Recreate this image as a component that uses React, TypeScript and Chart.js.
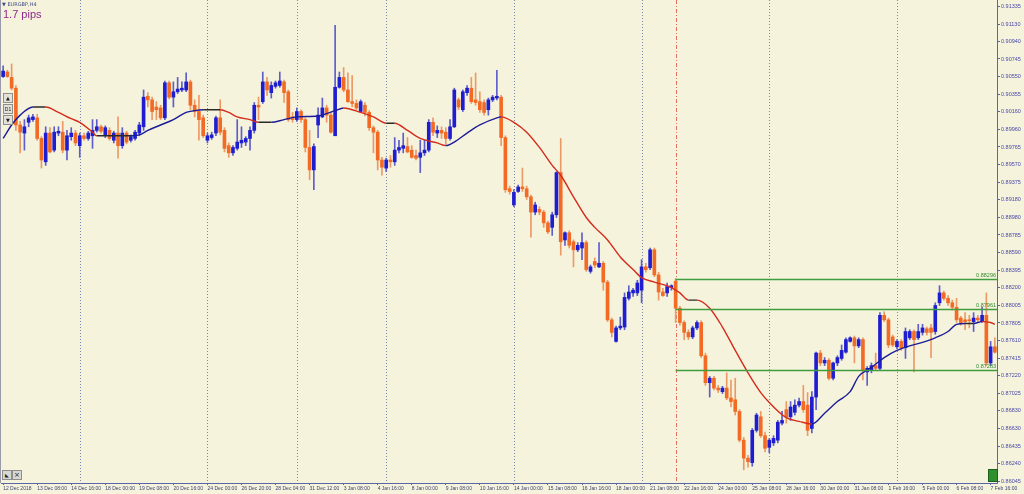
import React, { useEffect, useRef } from "react";
import { Chart, registerables } from "chart.js";

Chart.register(...registerables);

// ---------------- DATA ----------------
const opens = [
  0.9055, 0.9060, 0.9054, 0.9042, 0.9001, 0.8992, 0.9004, 0.9007, 0.9009, 0.8986,
  0.8960, 0.8992, 0.8973, 0.8992, 0.8993, 0.8973, 0.8988, 0.8992, 0.8978, 0.8989,
  0.8986, 0.8989, 0.8995, 0.8999, 0.8989, 0.8995, 0.8984, 0.8992, 0.8978, 0.8992,
  0.8984, 0.8986, 0.8992, 0.8999, 0.9033, 0.9029, 0.9021, 0.9020, 0.9009, 0.9048,
  0.9032, 0.9038, 0.9040, 0.9040, 0.9049, 0.9023, 0.9016, 0.9009, 0.8984, 0.8987,
  0.8992, 0.9009, 0.8995, 0.8978, 0.8970, 0.8975, 0.8981, 0.8982, 0.8986, 0.8995,
  0.9023, 0.9027, 0.9049, 0.9037, 0.9044, 0.9045, 0.9049, 0.9038, 0.9010, 0.9007,
  0.9016, 0.9007, 0.8976, 0.8951, 0.9001, 0.9010, 0.9020, 0.9012, 0.8989, 0.9043,
  0.9054, 0.9040, 0.9027, 0.9025, 0.9016, 0.9023, 0.9015, 0.8998, 0.8993, 0.8962,
  0.8953, 0.8962, 0.8960, 0.8973, 0.8975, 0.8977, 0.8973, 0.8967, 0.8965, 0.8970,
  0.8973, 0.9004, 0.8992, 0.8995, 0.8993, 0.8986, 0.8999, 0.9029, 0.9018, 0.9037,
  0.9042, 0.9029, 0.9027, 0.9026, 0.9018, 0.9029, 0.9031, 0.9032, 0.8987, 0.8930,
  0.8912, 0.8927, 0.8932, 0.8930, 0.8921, 0.8904, 0.8907, 0.8904, 0.8892, 0.8887,
  0.8901, 0.8948, 0.8873, 0.8881, 0.8871, 0.8862, 0.8864, 0.8870, 0.8838, 0.8849,
  0.8843, 0.8847, 0.8826, 0.8784, 0.8760, 0.8775, 0.8776, 0.8808, 0.8814, 0.8814,
  0.8817, 0.8843, 0.8842, 0.8862, 0.8834, 0.8815, 0.8814, 0.8820, 0.8827, 0.8797,
  0.8781, 0.8770, 0.8765, 0.8775, 0.8781, 0.8744, 0.8714, 0.8719, 0.8708, 0.8704,
  0.8708, 0.8697, 0.8695, 0.8682, 0.8650, 0.8630, 0.8625, 0.8661, 0.8676, 0.8655,
  0.8642, 0.8647, 0.8650, 0.8669, 0.8684, 0.8676, 0.8681, 0.8689, 0.8693, 0.8689,
  0.8663, 0.8698, 0.8747, 0.8736, 0.8739, 0.8719, 0.8736, 0.8741, 0.8748, 0.8760,
  0.8764, 0.8755, 0.8762, 0.8726, 0.8728, 0.8733, 0.8730, 0.8789, 0.8784, 0.8765,
  0.8754, 0.8760, 0.8753, 0.8764, 0.8771, 0.8764, 0.8770, 0.8774, 0.8775, 0.8771,
  0.8803, 0.8814, 0.8808, 0.8803, 0.8798, 0.8786, 0.8784, 0.8784, 0.8782, 0.8786,
  0.8782, 0.8789, 0.8736, 0.8754,
];

const highs = [
  0.9067, 0.9062, 0.9069, 0.9045, 0.9005, 0.9007, 0.9012, 0.9013, 0.9013, 0.8988,
  0.8999, 0.8998, 0.8999, 0.8999, 0.9005, 0.8995, 0.8998, 0.8995, 0.8992, 0.8992,
  0.8994, 0.9007, 0.9007, 0.9001, 0.9000, 0.8998, 0.8994, 0.9010, 0.8998, 0.8994,
  0.8990, 0.8995, 0.9004, 0.9040, 0.9037, 0.9032, 0.9027, 0.9023, 0.9050, 0.9050,
  0.9049, 0.9054, 0.9049, 0.9059, 0.9051, 0.9029, 0.9034, 0.9012, 0.8992, 0.8993,
  0.9011, 0.9029, 0.8998, 0.8981, 0.8978, 0.9007, 0.8999, 0.8988, 0.8999, 0.9026,
  0.9032, 0.9060, 0.9054, 0.9049, 0.9050, 0.9060, 0.9051, 0.9040, 0.9015, 0.9020,
  0.9018, 0.9009, 0.8995, 0.8980, 0.9020, 0.9031, 0.9023, 0.9015, 0.9112, 0.9060,
  0.9065, 0.9059, 0.9056, 0.9029, 0.9029, 0.9026, 0.9017, 0.9000, 0.8995, 0.8965,
  0.8964, 0.8967, 0.8987, 0.8984, 0.8992, 0.8987, 0.8978, 0.8973, 0.8984, 0.8984,
  0.9007, 0.9009, 0.9000, 0.8999, 0.8998, 0.9007, 0.9042, 0.9031, 0.9040, 0.9045,
  0.9054, 0.9059, 0.9038, 0.9029, 0.9031, 0.9034, 0.9062, 0.9034, 0.8989, 0.8933,
  0.8929, 0.8934, 0.8953, 0.8933, 0.8923, 0.8915, 0.8910, 0.8906, 0.8894, 0.8904,
  0.8949, 0.8986, 0.8882, 0.8883, 0.8873, 0.8870, 0.8881, 0.8872, 0.8845, 0.8853,
  0.8870, 0.8849, 0.8828, 0.8786, 0.8777, 0.8787, 0.8814, 0.8822, 0.8819, 0.8828,
  0.8851, 0.8847, 0.8864, 0.8864, 0.8837, 0.8819, 0.8825, 0.8823, 0.8830, 0.8799,
  0.8783, 0.8773, 0.8777, 0.8783, 0.8783, 0.8747, 0.8721, 0.8721, 0.8711, 0.8710,
  0.8725, 0.8717, 0.8719, 0.8684, 0.8653, 0.8633, 0.8663, 0.8680, 0.8682, 0.8659,
  0.8652, 0.8655, 0.8672, 0.8682, 0.8693, 0.8693, 0.8695, 0.8697, 0.8711, 0.8703,
  0.8704, 0.8748, 0.8750, 0.8742, 0.8741, 0.8737, 0.8744, 0.8756, 0.8764, 0.8765,
  0.8766, 0.8764, 0.8764, 0.8732, 0.8736, 0.8747, 0.8792, 0.8793, 0.8786, 0.8767,
  0.8762, 0.8762, 0.8775, 0.8773, 0.8773, 0.8779, 0.8779, 0.8776, 0.8779, 0.8803,
  0.8822, 0.8816, 0.8811, 0.8806, 0.8808, 0.8788, 0.8792, 0.8789, 0.8792, 0.8789,
  0.8798, 0.8814, 0.8760, 0.8764,
];

const lows = [
  0.9054, 0.9054, 0.9040, 0.8995, 0.8970, 0.8973, 0.8999, 0.9005, 0.8984, 0.8953,
  0.8956, 0.8970, 0.8971, 0.8989, 0.8970, 0.8962, 0.8984, 0.8978, 0.8965, 0.8984,
  0.8984, 0.8975, 0.8993, 0.8992, 0.8987, 0.8984, 0.8981, 0.8964, 0.8975, 0.8980,
  0.8982, 0.8984, 0.8989, 0.8995, 0.9021, 0.9007, 0.9007, 0.9007, 0.9007, 0.9030,
  0.9021, 0.9036, 0.9038, 0.9038, 0.9018, 0.9010, 0.8984, 0.8987, 0.8981, 0.8985,
  0.8989, 0.8990, 0.8971, 0.8965, 0.8967, 0.8973, 0.8976, 0.8978, 0.8973, 0.8992,
  0.9007, 0.9025, 0.9034, 0.9031, 0.9042, 0.9043, 0.9026, 0.9005, 0.9004, 0.9005,
  0.9004, 0.8971, 0.8940, 0.8929, 0.8987, 0.9009, 0.9004, 0.8992, 0.8989, 0.9042,
  0.9038, 0.9026, 0.9021, 0.9018, 0.9015, 0.9011, 0.8995, 0.8970, 0.8951, 0.8945,
  0.8949, 0.8954, 0.8956, 0.8970, 0.8970, 0.8970, 0.8964, 0.8962, 0.8948, 0.8967,
  0.8971, 0.8989, 0.8987, 0.8986, 0.8978, 0.8984, 0.8998, 0.9018, 0.9016, 0.9034,
  0.9025, 0.9023, 0.9015, 0.9012, 0.9012, 0.9027, 0.9029, 0.8978, 0.8926, 0.8924,
  0.8910, 0.8926, 0.8927, 0.8918, 0.8876, 0.8901, 0.8901, 0.8887, 0.8880, 0.8878,
  0.8898, 0.8856, 0.8867, 0.8864, 0.8843, 0.8860, 0.8851, 0.8838, 0.8836, 0.8842,
  0.8842, 0.8817, 0.8782, 0.8765, 0.8759, 0.8773, 0.8773, 0.8806, 0.8810, 0.8811,
  0.8803, 0.8837, 0.8840, 0.8832, 0.8806, 0.8810, 0.8810, 0.8817, 0.8781, 0.8778,
  0.8762, 0.8762, 0.8763, 0.8773, 0.8742, 0.8711, 0.8698, 0.8706, 0.8703, 0.8702,
  0.8695, 0.8687, 0.8678, 0.8648, 0.8617, 0.8620, 0.8621, 0.8659, 0.8653, 0.8637,
  0.8636, 0.8644, 0.8647, 0.8667, 0.8669, 0.8672, 0.8678, 0.8687, 0.8681, 0.8655,
  0.8658, 0.8684, 0.8733, 0.8733, 0.8717, 0.8717, 0.8733, 0.8739, 0.8747, 0.8759,
  0.8736, 0.8753, 0.8717, 0.8711, 0.8725, 0.8728, 0.8728, 0.8782, 0.8753, 0.8754,
  0.8752, 0.8750, 0.8741, 0.8762, 0.8726, 0.8762, 0.8767, 0.8767, 0.8742, 0.8768,
  0.8800, 0.8806, 0.8800, 0.8795, 0.8781, 0.8778, 0.8773, 0.8775, 0.8771, 0.8782,
  0.8781, 0.8733, 0.8733, 0.8747,
];

const closes = [
  0.9061, 0.9055, 0.9042, 0.9001, 0.8993, 0.8999, 0.9009, 0.9010, 0.8986, 0.8962,
  0.8992, 0.8971, 0.8993, 0.8994, 0.8973, 0.8989, 0.8992, 0.8981, 0.8989, 0.8986,
  0.8992, 0.8995, 0.8999, 0.8994, 0.8998, 0.8986, 0.8992, 0.8978, 0.8992, 0.8982,
  0.8988, 0.8993, 0.9001, 0.9032, 0.9029, 0.9016, 0.9018, 0.9009, 0.9048, 0.9032,
  0.9038, 0.9041, 0.9042, 0.9049, 0.9023, 0.9016, 0.9007, 0.8989, 0.8989, 0.8990,
  0.9009, 0.8993, 0.8975, 0.8970, 0.8976, 0.8982, 0.8984, 0.8986, 0.8995, 0.9023,
  0.9021, 0.9049, 0.9040, 0.9045, 0.9048, 0.9050, 0.9037, 0.9007, 0.9007, 0.9016,
  0.9007, 0.8976, 0.8951, 0.8977, 0.9012, 0.9020, 0.9012, 0.8993, 0.9043, 0.9054,
  0.9040, 0.9027, 0.9025, 0.9020, 0.9027, 0.9015, 0.8998, 0.8993, 0.8962, 0.8954,
  0.8962, 0.8960, 0.8973, 0.8976, 0.8978, 0.8971, 0.8965, 0.8964, 0.8970, 0.8973,
  0.9004, 0.8993, 0.8995, 0.8992, 0.8986, 0.8999, 0.9040, 0.9021, 0.9038, 0.9042,
  0.9027, 0.9026, 0.9018, 0.9015, 0.9029, 0.9032, 0.9033, 0.8987, 0.8929, 0.8927,
  0.8926, 0.8932, 0.8930, 0.8921, 0.8904, 0.8912, 0.8904, 0.8892, 0.8882, 0.8901,
  0.8948, 0.8871, 0.8881, 0.8867, 0.8862, 0.8867, 0.8870, 0.8840, 0.8843, 0.8845,
  0.8847, 0.8826, 0.8784, 0.8770, 0.8775, 0.8777, 0.8809, 0.8815, 0.8817, 0.8825,
  0.8843, 0.8840, 0.8862, 0.8834, 0.8815, 0.8811, 0.8821, 0.8822, 0.8797, 0.8781,
  0.8770, 0.8765, 0.8775, 0.8781, 0.8744, 0.8714, 0.8719, 0.8708, 0.8706, 0.8708,
  0.8697, 0.8693, 0.8682, 0.8650, 0.8630, 0.8626, 0.8661, 0.8678, 0.8655, 0.8641,
  0.8650, 0.8652, 0.8670, 0.8672, 0.8676, 0.8687, 0.8689, 0.8693, 0.8684, 0.8661,
  0.8698, 0.8747, 0.8736, 0.8739, 0.8719, 0.8736, 0.8742, 0.8750, 0.8762, 0.8764,
  0.8755, 0.8762, 0.8728, 0.8730, 0.8733, 0.8730, 0.8789, 0.8784, 0.8756, 0.8756,
  0.8760, 0.8753, 0.8771, 0.8771, 0.8762, 0.8771, 0.8775, 0.8770, 0.8770, 0.8800,
  0.8814, 0.8808, 0.8803, 0.8798, 0.8784, 0.8781, 0.8782, 0.8783, 0.8786, 0.8784,
  0.8789, 0.8736, 0.8754, 0.8748,
];

// moving average (bar index, value)
const maBars = [
  0, 2, 4, 7, 10, 13, 16, 18, 21, 22, 25, 30, 32, 34, 37, 40, 43, 45, 47, 51,
  53, 55, 58, 60, 63, 66, 69, 74, 78, 80, 84, 87, 90, 92, 95, 98, 102, 104, 106, 109,
  112, 116, 117, 120, 123, 126, 129, 131, 134, 137, 139, 142, 145, 148, 150, 153, 157, 159, 161, 163,
  166, 169, 172, 175, 178, 180, 184, 187, 190, 193, 196, 199, 201, 204, 207, 210, 213, 216, 219, 222,
  224, 226, 228, 230, 232, 233,
];
const maValues = [
  0.8986, 0.9001, 0.9012, 0.9021, 0.9021, 0.9015, 0.9008, 0.9004, 0.8993, 0.8989,
  0.8989, 0.8989, 0.8990, 0.8995, 0.9001, 0.9007, 0.9015, 0.9017, 0.9018, 0.9018,
  0.9015, 0.9010, 0.9007, 0.9004, 0.9004, 0.9007, 0.9010, 0.9011, 0.9017, 0.9020,
  0.9015, 0.9010, 0.9003, 0.9003, 0.8995, 0.8986, 0.8981, 0.8978, 0.8982, 0.8992,
  0.9001, 0.9009, 0.9010, 0.9004, 0.8993, 0.8976, 0.8956, 0.8945, 0.8921, 0.8898,
  0.8887, 0.8873, 0.8854, 0.8840, 0.8831, 0.8826, 0.8820, 0.8814, 0.8806, 0.8806,
  0.8797, 0.8776, 0.8750, 0.8725, 0.8703, 0.8692, 0.8675, 0.8671, 0.8668, 0.8680,
  0.8693, 0.8704, 0.8721, 0.8731, 0.8742, 0.8750, 0.8755, 0.8759, 0.8764, 0.8771,
  0.8779, 0.8780, 0.8780, 0.8782, 0.8781, 0.8779,
];

const xTickLabels = [
  "12 Dec 2018", "13 Dec 08:00", "14 Dec 16:00", "18 Dec 00:00", "19 Dec 08:00",
  "20 Dec 16:00", "24 Dec 00:00", "26 Dec 20:00", "28 Dec 04:00", "31 Dec 12:00",
  "3 Jan 08:00", "4 Jan 16:00", "8 Jan 00:00", "9 Jan 08:00", "10 Jan 16:00",
  "14 Jan 00:00", "15 Jan 08:00", "16 Jan 16:00", "18 Jan 00:00", "21 Jan 08:00",
  "22 Jan 16:00", "24 Jan 00:00", "25 Jan 08:00", "28 Jan 16:00", "30 Jan 00:00",
  "31 Jan 08:00", "1 Feb 16:00", "5 Feb 00:00", "6 Feb 08:00", "7 Feb 16:00",
];
const barsPerLabel = 8;

const yTickValues = [
  0.91335, 0.9113, 0.9094, 0.90745, 0.9055, 0.90355, 0.9016, 0.8996, 0.89765, 0.8957,
  0.89375, 0.8918, 0.8898, 0.88785, 0.8859, 0.88395, 0.882, 0.88005, 0.87805, 0.8761,
  0.87415, 0.8722, 0.87025, 0.8683, 0.8663, 0.86435, 0.8624, 0.86045,
];
const yMin = 0.86023;
const yMax = 0.91402;

const weekStartBars = [18, 48, 69, 90, 120, 150, 180, 210];
const markerBar = 158;
const levelValues = [0.88296, 0.87961, 0.87283];
const levelLabels = ["0.88296", "0.87961", "0.87283"];

// ---------------- STYLE ----------------
const BG = "#f6f3dc";
const AXIS = "#5a66a6";
const BULL = "#1e1ed0";
const BEAR = "#f26a24";
const BULL_WICK = "#5d5dcc";
const BEAR_WICK = "#eb9a66";
const MA_UP = "#1c1c98";
const MA_DN = "#d42c1c";
const MA_FLAT = "#2a2a2a";
const FONT = "'Liberation Sans', Arial, sans-serif";

const overlayPlugin = {
  id: "mtOverlay",
  beforeDraw(chart: any) {
    const { ctx, width, height } = chart;
    ctx.save();
    ctx.fillStyle = BG;
    ctx.fillRect(0, 0, width, height);
    ctx.restore();
  },
  beforeDatasetsDraw(chart: any) {
    const { ctx, chartArea } = chart;
    const xs = chart.scales.x;
    ctx.save();
    ctx.lineWidth = 1;
    ctx.strokeStyle = "rgba(105,115,165,0.85)";
    ctx.setLineDash([1, 2]);
    weekStartBars.forEach((b) => {
      const x = Math.round(xs.getPixelForValue(b)) + 0.5;
      ctx.beginPath();
      ctx.moveTo(x, chartArea.top);
      ctx.lineTo(x, chartArea.bottom);
      ctx.stroke();
    });
    // red dashed marker line
    ctx.strokeStyle = "#e2705e";
    ctx.setLineDash([4, 2, 1, 2]);
    const mx = Math.round(xs.getPixelForValue(markerBar)) + 0.5;
    ctx.beginPath();
    ctx.moveTo(mx, chartArea.top);
    ctx.lineTo(mx, chartArea.bottom);
    ctx.stroke();
    // left frame
    ctx.setLineDash([]);
    ctx.strokeStyle = "#9a9aa8";
    ctx.beginPath();
    ctx.moveTo(chartArea.left - 0.5, chartArea.top);
    ctx.lineTo(chartArea.left - 0.5, chartArea.bottom);
    ctx.stroke();
    ctx.restore();
  },
  afterDatasetsDraw(chart: any) {
    const { ctx, chartArea } = chart;
    const xs = chart.scales.x;
    const ys = chart.scales.y;
    const x0 = xs.getPixelForValue(markerBar);
    ctx.save();
    ctx.strokeStyle = "#3f9c3f";
    ctx.lineWidth = 1.5;
    ctx.fillStyle = "#2f8a2f";
    ctx.font = `5.5px ${FONT}`;
    ctx.textAlign = "right";
    ctx.textBaseline = "bottom";
    levelValues.forEach((v, i) => {
      const y = Math.round(ys.getPixelForValue(v)) + 0.5;
      ctx.beginPath();
      ctx.moveTo(x0, y);
      ctx.lineTo(chartArea.right, y);
      ctx.stroke();
      ctx.fillText(levelLabels[i], chartArea.right - 1, y - 1);
    });
    ctx.restore();
  },
};

export default function App() {
  const canvasRef = useRef<HTMLCanvasElement | null>(null);

  useEffect(() => {
    if (!canvasRef.current) return;
    const barLabels = opens.map((_, i) => i);
    const isBull = closes.map((c, i) => c >= opens[i]);

    const chart = new Chart(canvasRef.current, {
      type: "bar",
      data: {
        labels: barLabels,
        datasets: [
          {
            type: "line",
            label: "MA",
            data: maBars.map((b, i) => ({ x: b, y: maValues[i] })) as any,
            borderColor: MA_UP,
            borderWidth: 1.4,
            pointRadius: 0,
            cubicInterpolationMode: "monotone",
            order: 0,
            segment: {
              borderColor: (ctx: any) => {
                const d = ctx.p1.parsed.y - ctx.p0.parsed.y;
                if (d > 0.00001) return MA_UP;
                if (d < -0.00001) return MA_DN;
                return MA_FLAT;
              },
            },
          } as any,
          {
            type: "bar",
            label: "body",
            data: opens.map((o, i) => [o, closes[i]]) as any,
            backgroundColor: isBull.map((b) => (b ? BULL : BEAR)),
            barThickness: 3,
            minBarLength: 1,
            grouped: false,
            borderWidth: 0,
            borderSkipped: false,
            order: 1,
          } as any,
          {
            type: "bar",
            label: "wick",
            data: lows.map((l, i) => [l, highs[i]]) as any,
            backgroundColor: isBull.map((b) => (b ? BULL_WICK : BEAR_WICK)),
            barThickness: 1,
            grouped: false,
            borderWidth: 0,
            borderSkipped: false,
            order: 2,
          } as any,
        ],
      },
      options: {
        responsive: false,
        maintainAspectRatio: false,
        animation: false,
        events: [],
        layout: { padding: { left: 1, top: 0, right: 0, bottom: 0 } },
        plugins: {
          legend: { display: false },
          tooltip: { enabled: false },
        },
        scales: {
          x: {
            type: "category",
            offset: true,
            grid: {
              display: true,
              drawOnChartArea: false,
              drawTicks: true,
              tickLength: 2,
              offset: false,
              color: (c: any) => (c.index % barsPerLabel === 0 ? AXIS : "rgba(0,0,0,0)"),
            },
            border: { display: true, color: AXIS, width: 1 },
            ticks: {
              autoSkip: false,
              maxRotation: 0,
              minRotation: 0,
              align: "start",
              padding: 1,
              color: "#3c4472",
              font: { family: FONT, size: 5 },
              callback: (_v: any, i: number) =>
                i % barsPerLabel === 0 && xTickLabels[i / barsPerLabel] ? xTickLabels[i / barsPerLabel] : "",
            },
            afterFit: (s: any) => {
              s.height = 11;
              s.paddingLeft = 0;
              s.paddingRight = 0;
            },
          } as any,
          y: {
            position: "right",
            min: yMin,
            max: yMax,
            afterBuildTicks: (s: any) => {
              s.ticks = yTickValues.map((v) => ({ value: v }));
            },
            afterFit: (s: any) => {
              s.width = 27;
              s.paddingTop = 0;
              s.paddingBottom = 0;
            },
            grid: {
              display: true,
              drawOnChartArea: false,
              drawTicks: true,
              tickLength: 3,
              color: AXIS,
            },
            border: { display: true, color: AXIS, width: 1 },
            ticks: {
              autoSkip: false,
              padding: 1,
              color: "#4848aa",
              font: { family: FONT, size: 5.5 },
              callback: (v: any) => Number(v).toFixed(5),
            },
          } as any,
        },
      },
      plugins: [overlayPlugin],
    });

    return () => chart.destroy();
  }, []);

  const btn: React.CSSProperties = {
    position: "absolute",
    left: 3,
    width: 8,
    height: 8,
    background: "#e2e2da",
    border: "1px solid #8e8e8e",
    fontFamily: "'DejaVu Sans', sans-serif",
    fontSize: 5,
    lineHeight: "8px",
    textAlign: "center",
    color: "#202020",
  };

  return (
    <div
      style={{
        position: "fixed",
        left: 0,
        top: 0,
        width: 1024,
        height: 494,
        background: BG,
        overflow: "hidden",
      }}
    >
      <canvas
        ref={canvasRef}
        width={1024}
        height={494}
        style={{ position: "absolute", left: 0, top: 0, width: 1024, height: 494 }}
      />
      <div
        style={{
          position: "absolute",
          left: 2,
          top: 1,
          fontFamily: "'DejaVu Sans', sans-serif",
          fontSize: 5,
          color: "#3e4a86",
          whiteSpace: "nowrap",
          lineHeight: "7px",
        }}
      >
        ▼ EURGBP,H4
      </div>
      <div
        style={{
          position: "absolute",
          left: 3,
          top: 8,
          fontFamily: FONT,
          fontSize: 11,
          color: "#8c2a8c",
          whiteSpace: "nowrap",
          lineHeight: "13px",
        }}
      >
        1.7 pips
      </div>
      <div style={{ ...btn, top: 93 }}>▲</div>
      <div style={{ ...btn, top: 104, fontFamily: FONT }}>D1</div>
      <div style={{ ...btn, top: 115 }}>▼</div>
      <div style={{ ...btn, left: 2, top: 470, background: "#d8d8d0" }}>◣</div>
      <div style={{ ...btn, left: 12, top: 470, background: "#d8d8d0", fontSize: 7 }}>×</div>
      <div
        style={{
          position: "absolute",
          left: 988,
          top: 469,
          width: 8,
          height: 11,
          background: "#2f902f",
          border: "1px solid #1d601d",
        }}
      />
    </div>
  );
}
